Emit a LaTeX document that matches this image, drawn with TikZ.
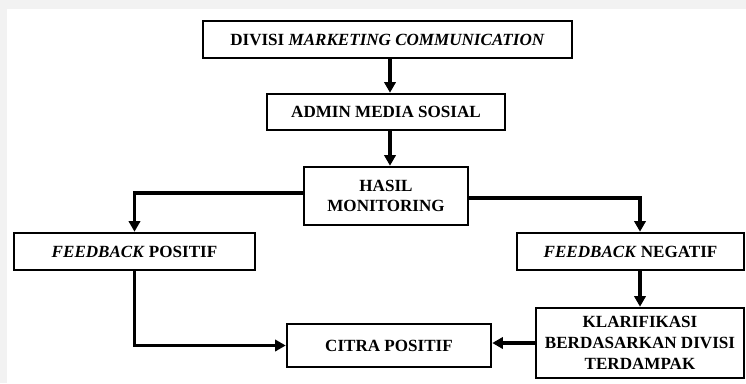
\documentclass[tikz,border=0pt]{standalone}
\usepackage{fontspec}
\setmainfont{Liberation Serif}
\usetikzlibrary{arrows.meta,calc}
\definecolor{pagegray}{HTML}{F2F2F2}
\begin{document}
\begin{tikzpicture}[x=0.75pt,y=-0.75pt,
  box/.style={draw=black,line width=1.9pt,rectangle,inner sep=0pt,align=center,
    font=\fontsize{12.8}{15.5}\selectfont\bfseries},
  conn/.style={line width=2.6pt,-{Triangle[length=8pt,width=8.5pt]}}]
\useasboundingbox (0,0) rectangle (746,383);
\fill[pagegray] (0,0) rectangle (746,383);
\fill[white] (7,9) rectangle (746,383);

\node[box,minimum width=369*0.75pt,minimum height=37*0.75pt] (top) at (387.5,39.5)
  {DIVISI \textit{MARKETING COMMUNICATION}};
\node[box,minimum width=238*0.75pt,minimum height=36*0.75pt] (admin) at (386,112)
  {ADMIN MEDIA SOSIAL};
\node[box,minimum width=164*0.75pt,minimum height=58*0.75pt] (hasil) at (386,196)
  {HASIL\\MONITORING};
\node[box,minimum width=241*0.75pt,minimum height=37*0.75pt] (fpos) at (134.5,251.5)
  {\textit{FEEDBACK} POSITIF};
\node[box,minimum width=227*0.75pt,minimum height=37*0.75pt] (fneg) at (630.5,251.5)
  {\textit{FEEDBACK} NEGATIF};
\node[box,minimum width=204*0.75pt,minimum height=43*0.75pt] (citra) at (389,345.5)
  {CITRA POSITIF};
\node[box,minimum width=208*0.75pt,minimum height=70*0.75pt] (klar) at (640,343)
  {KLARIFIKASI\\BERDASARKAN DIVISI\\TERDAMPAK};

\coordinate (topout) at ($(top.south)+(2.5,0)$);
\coordinate (adminout) at ($(admin.south)+(4,0)$);
\coordinate (hasilL) at ($(hasil.west)+(0,-3)$);
\coordinate (hasilR) at ($(hasil.east)+(0,2)$);
\coordinate (negin) at ($(fneg.north)+(9.5,0)$);
\coordinate (posturn) at ($(fpos.south)+(0,90)$);
\draw[conn] (topout) -- (topout |- admin.north);
\draw[conn] (adminout) -- (adminout |- hasil.north);
\draw[conn] (hasilL) -| (fpos.north);
\draw[conn] (hasilR) -| (negin);
\draw[conn] (klar.north |- fneg.south) -- (klar.north);
\draw[conn] (fpos.south) |- (citra.west);
\draw[conn] (klar.west) -- (citra.east |- klar.west);
\end{tikzpicture}
\end{document}
